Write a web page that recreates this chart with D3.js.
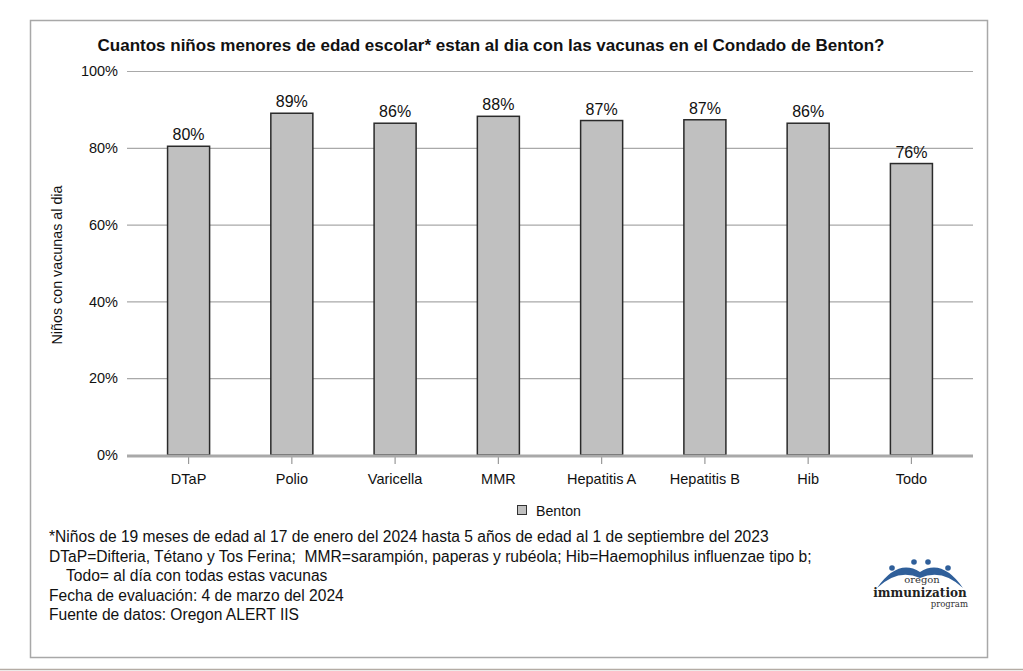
<!DOCTYPE html>
<html><head><meta charset="utf-8">
<script src="https://cdn.jsdelivr.net/npm/d3@7"></script>
<style>body{margin:0;background:#fff;}svg{display:block;font-family:"Liberation Sans",Arial,sans-serif;}</style>
</head><body>
<svg id="c" width="1023" height="671"></svg>
<script>
const categories = ["DTaP","Polio","Varicella","MMR","Hepatitis A","Hepatitis B","Hib","Todo"];
const values = [80.4, 89.0, 86.4, 88.2, 87.1, 87.3, 86.4, 75.9];
const yTicks = [0, 20, 40, 60, 80, 100];
const seriesName = "Benton";
const title = "Cuantos niños menores de edad escolar* estan al dia con las vacunas en el Condado de Benton?";
const yLabel = "Niños con vacunas al dia";
const notes = [
  "*Niños de 19 meses de edad al 17 de enero del 2024 hasta 5 años de edad al 1 de septiembre del 2023",
  "DTaP=Difteria, Tétano y Tos Ferina;  MMR=sarampión, paperas y rubéola; Hib=Haemophilus influenzae tipo b;",
  "    Todo= al día con todas estas vacunas",
  "Fecha de evaluación: 4 de marzo del 2024",
  "Fuente de datos: Oregon ALERT IIS"
];

const svg = d3.select("#c");
// frame
svg.append("rect").attr("x",30.5).attr("y",20.5).attr("width",957).attr("height",637)
  .attr("fill","none").attr("stroke","#a8a8a8").attr("stroke-width",1.5);
svg.append("line").attr("x1",0).attr("x2",1023).attr("y1",669.5).attr("y2",669.5)
  .attr("stroke","#b4aca4").attr("stroke-width",1.5);

// title
svg.append("text").attr("x",491).attr("y",51).attr("text-anchor","middle")
  .attr("font-weight","bold").attr("font-size",17).attr("fill","#111").text(title);

const x = d3.scaleBand().domain(categories).range([137, 963]).paddingInner(0.593).paddingOuter(0.296);
const y = d3.scaleLinear().domain([0,100]).range([455, 71]);
const gx0 = 127, gx1 = 973;

// gridlines
svg.append("g").selectAll("line").data(yTicks.filter(d=>d>0)).join("line")
  .attr("x1",gx0).attr("x2",gx1).attr("y1",d=>y(d)+0.5).attr("y2",d=>y(d)+0.5)
  .attr("stroke","#a9a9a9").attr("stroke-width",1.2);

// y axis labels
const yAxis = d3.axisLeft(y).tickValues(yTicks).tickFormat(d=>d+"%").tickSize(0).tickPadding(0);
const ga = svg.append("g").attr("transform","translate(118,0)").call(yAxis);
ga.select(".domain").remove();
ga.selectAll("text").attr("font-size",14.5).attr("fill","#111").attr("font-family","Liberation Sans, Arial, sans-serif");

// bars
svg.append("g").selectAll("rect").data(values).join("rect")
  .attr("x",(d,i)=>x(categories[i])).attr("width",x.bandwidth())
  .attr("y",d=>y(d)).attr("height",d=>y(0)-y(d))
  .attr("fill","#c0c0c0").attr("stroke","#2a2a2a").attr("stroke-width",1.5);

// value labels
svg.append("g").selectAll("text").data(values).join("text")
  .attr("x",(d,i)=>x(categories[i])+x.bandwidth()/2).attr("y",d=>y(d)-6)
  .attr("text-anchor","middle").attr("font-size",16).attr("fill","#111")
  .text(d=>Math.round(d)+"%");

// baseline and x axis
const xAxis = d3.axisBottom(x).tickSize(8).tickPadding(10);
const gxa = svg.append("g").attr("transform","translate(0,456)").call(xAxis);
gxa.select(".domain").remove();
gxa.selectAll(".tick line").attr("stroke","#999").attr("stroke-width",1.2);
gxa.selectAll("text").attr("font-size",14.5).attr("fill","#111").attr("font-family","Liberation Sans, Arial, sans-serif");
svg.append("line").attr("x1",gx0).attr("x2",gx1).attr("y1",456).attr("y2",456)
  .attr("stroke","#a9a9a9").attr("stroke-width",3);

// y label
svg.append("text").attr("transform","translate(62,265) rotate(-90)").attr("text-anchor","middle")
  .attr("font-size",14.3).attr("fill","#111").text(yLabel);

// legend
svg.append("rect").attr("x",517.5).attr("y",505.5).attr("width",9).attr("height",9)
  .attr("fill","#c0c0c0").attr("stroke","#333").attr("stroke-width",1);
svg.append("text").attr("x",536).attr("y",516).attr("font-size",14.2).attr("fill","#111").text(seriesName);

// notes
svg.append("g").selectAll("text").data(notes).join("text")
  .attr("x",49).attr("y",(d,i)=>542+i*19.5).attr("font-size",15.6).attr("fill","#111")
  .attr("xml:space","preserve").style("white-space","pre").text(d=>d);

// logo
const logo = svg.append("g").attr("transform","translate(920,592)");
logo.append("path").attr("d","M-43,-4 Q-22,-34 0,-20 Q22,-34 43,-4 Q22,-24 0,-14 Q-22,-24 -43,-4Z").attr("fill","#2f5f9a");
[[-28,-24],[-6,-30],[8,-30],[28,-24]].forEach(p=>logo.append("circle").attr("cx",p[0]).attr("cy",p[1]).attr("r",2.8).attr("fill","#2f5f9a"));
logo.append("text").attr("x",2).attr("y",-9).attr("text-anchor","middle").attr("font-family","DejaVu Serif, serif").attr("font-size",10).attr("fill","#333").text("oregon");
logo.append("text").attr("x",0).attr("y",5).attr("text-anchor","middle").attr("font-family","DejaVu Serif, serif").attr("font-weight","bold").attr("font-size",12).attr("fill","#222").text("immunization");
logo.append("text").attr("x",48).attr("y",15).attr("text-anchor","end").attr("font-family","DejaVu Serif, serif").attr("font-size",8.5).attr("fill","#333").text("program");
</script>
</body></html>
